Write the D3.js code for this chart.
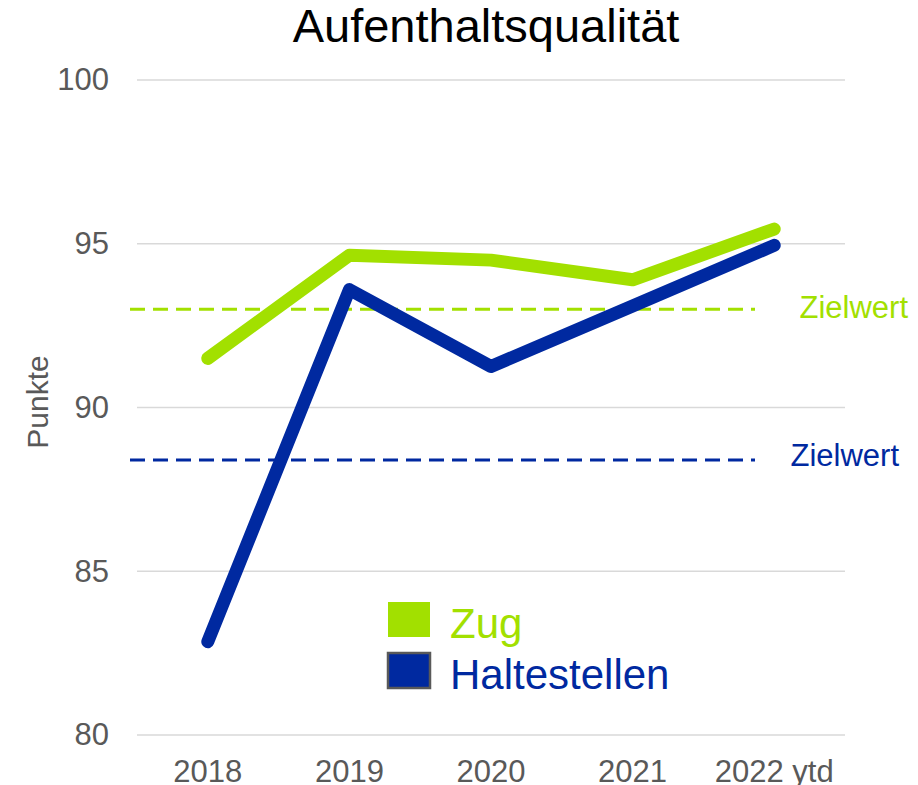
<!DOCTYPE html>
<html>
<head>
<meta charset="utf-8">
<script src="https://cdn.jsdelivr.net/npm/d3@7"></script>
<style>
  body { margin: 0; background: #fff; }
  svg { font-family: "Liberation Sans", Arial, sans-serif; }
</style>
</head>
<body>
<div id="chart"></div>
<script>
const years = ['2018', '2019', '2020', '2021', '2022 ytd'];
const zugValues = [91.5, 94.65, 94.5, 93.9, 95.45];
const halteValues = [82.85, 93.6, 91.25, 93.1, 94.95];
const zielZug = 93.0;
const zielHalte = 88.4;
const yTicks = [80, 85, 90, 95, 100];

const green = '#a2e000';
const blue = '#0029a0';
const grey = '#595959';

const width = 918, height = 785;
const svg = d3.select('#chart').append('svg')
  .attr('width', width)
  .attr('height', height);

const x = d3.scaleBand().domain(years).range([137, 845]);
const y = d3.scaleLinear().domain([80, 100]).range([735, 80]);

// title
svg.append('text')
  .attr('x', 486).attr('y', 42)
  .attr('text-anchor', 'middle')
  .style('font-size', '47px')
  .style('fill', '#000')
  .text('Aufenthaltsqualität');

// gridlines
svg.append('g')
  .selectAll('line.gridline').data(yTicks).enter()
  .append('line')
  .attr('class', 'gridline')
  .attr('x1', 137).attr('x2', 845)
  .attr('y1', d => y(d)).attr('y2', d => y(d))
  .style('stroke', '#d9d9d9')
  .style('stroke-width', 1.5);

const yAxis = svg.append('g')
  .attr('transform', 'translate(109,0)')
  .call(d3.axisLeft(y).tickValues(yTicks).tickSize(0).tickPadding(0));
yAxis.select('.domain').remove();
yAxis.selectAll('text')
  .style('font-size', '31px')
  .style('fill', grey)
  .style('font-family', '"Liberation Sans", Arial, sans-serif');

const xAxis = svg.append('g')
  .attr('transform', 'translate(0,760)')
  .call(d3.axisBottom(x).tickSize(0).tickPadding(0));
xAxis.select('.domain').remove();
xAxis.selectAll('text')
  .style('font-size', '31px')
  .style('fill', grey)
  .style('font-family', '"Liberation Sans", Arial, sans-serif');

// y caption
svg.append('text')
  .attr('transform', 'translate(48,402) rotate(-90)')
  .attr('text-anchor', 'middle')
  .style('font-size', '30px')
  .style('fill', grey)
  .text('Punkte');

// target lines
const targets = [
  { value: zielZug, color: green, labelX: 908, dy: 9 },
  { value: zielHalte, color: blue, labelX: 899, dy: 6 }
];
targets.forEach(t => {
  svg.append('line')
    .attr('x1', 130).attr('x2', 755)
    .attr('y1', y(t.value)).attr('y2', y(t.value))
    .style('stroke', t.color)
    .style('stroke-width', 3)
    .style('stroke-dasharray', '15,8');
  svg.append('text')
    .attr('x', t.labelX).attr('y', y(t.value) + t.dy)
    .attr('text-anchor', 'end')
    .style('font-size', '31px')
    .style('fill', t.color)
    .text('Zielwert');
});

// series lines
const line = d3.line()
  .x((d, i) => x(years[i]) + x.bandwidth() / 2)
  .y(d => y(d));

[[zugValues, green], [halteValues, blue]].forEach(([vals, color]) => {
  svg.append('path')
    .datum(vals)
    .attr('d', line)
    .style('fill', 'none')
    .style('stroke', color)
    .style('stroke-width', 13)
    .style('stroke-linecap', 'round')
    .style('stroke-linejoin', 'round');
});

// legend
const legend = [
  { name: 'Zug', color: green, border: 'none', y: 602, textY: 638 },
  { name: 'Haltestellen', color: blue, border: '#595959', y: 653, textY: 689 }
];
legend.forEach(l => {
  svg.append('rect')
    .attr('x', 388).attr('y', l.y)
    .attr('width', 42).attr('height', 35)
    .style('fill', l.color)
    .style('stroke', l.border)
    .style('stroke-width', 2.5);
  svg.append('text')
    .attr('x', 450).attr('y', l.textY)
    .style('font-size', '42px')
    .style('fill', l.color)
    .text(l.name);
});
</script>
</body>
</html>
